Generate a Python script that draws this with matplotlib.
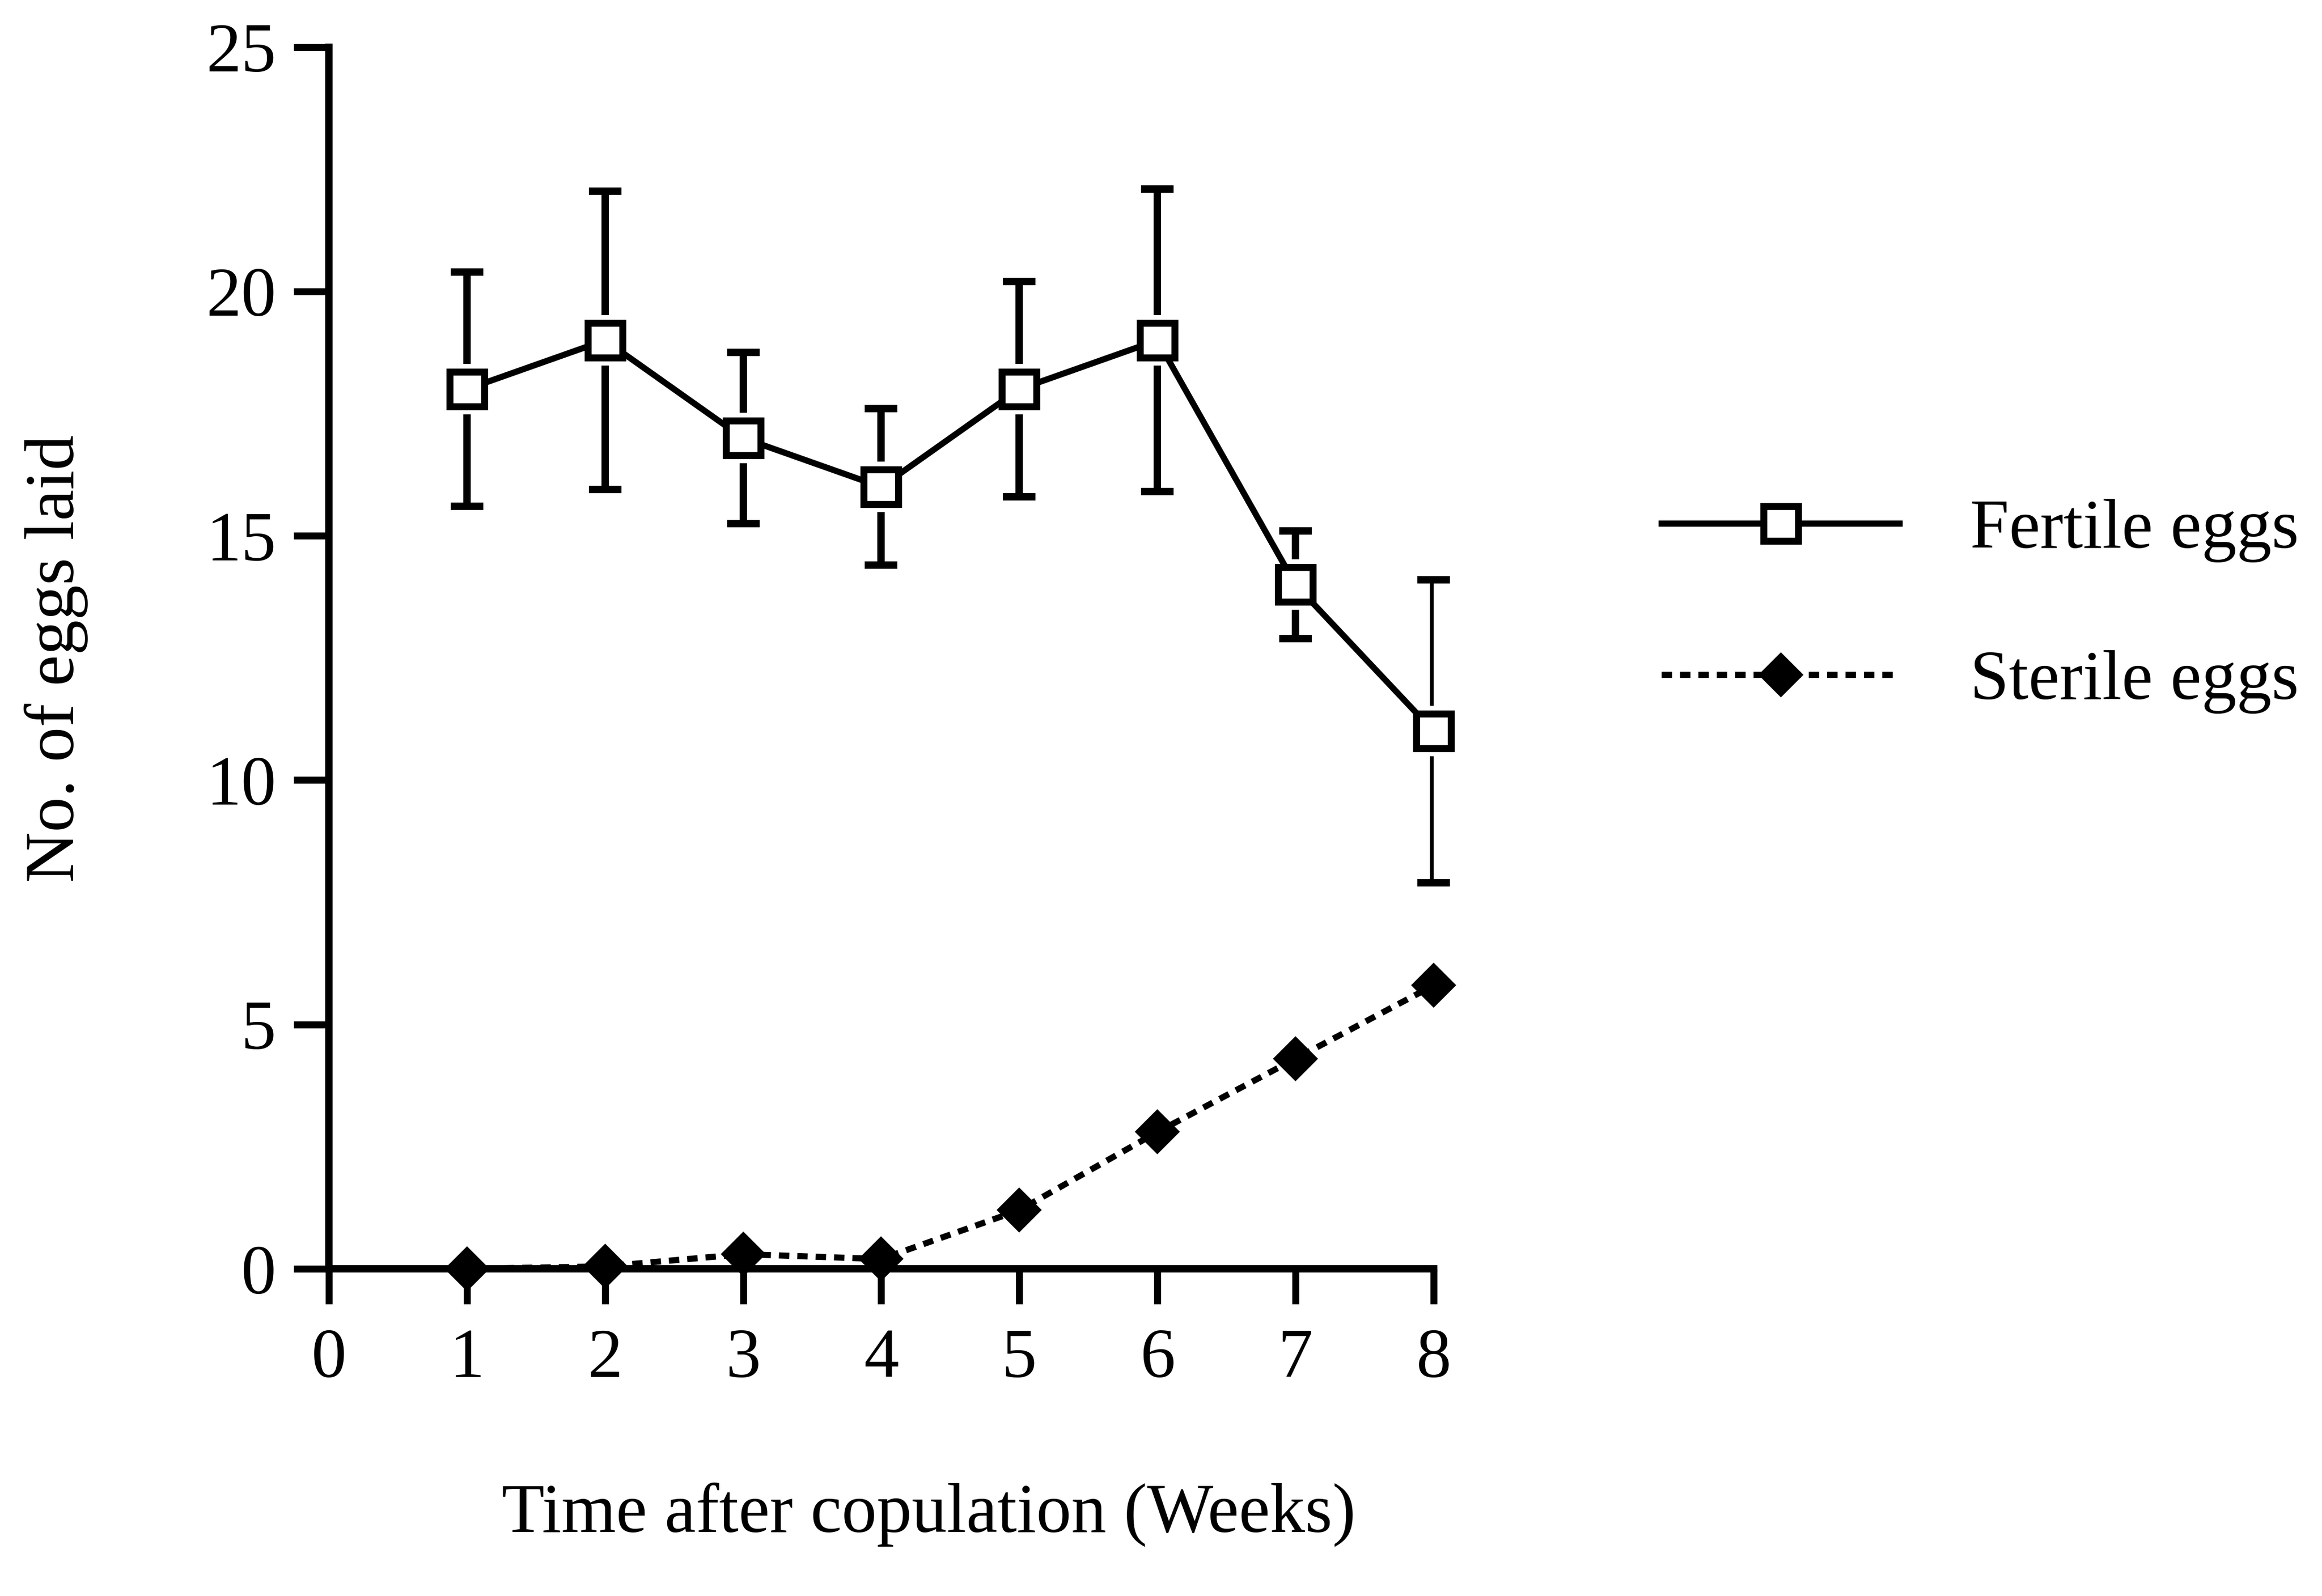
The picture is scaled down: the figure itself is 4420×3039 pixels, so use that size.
import matplotlib
matplotlib.use("Agg")
import matplotlib.pyplot as plt

plt.rcParams["font.family"] = ["Liberation Serif", "DejaVu Serif"]

weeks = [1, 2, 3, 4, 5, 6, 7, 8]
fertile = [18.0, 19.0, 17.0, 16.0, 18.0, 19.0, 14.0, 11.0]
fertile_err = [2.4, 3.05, 1.75, 1.6, 2.2, 3.1, 1.1, 3.1]
sterile = [0.0, 0.05, 0.3, 0.2, 1.2, 2.8, 4.3, 5.8]

xticks = [0, 1, 2, 3, 4, 5, 6, 7, 8]
yticks = [0, 5, 10, 15, 20, 25]

fig = plt.figure(figsize=(4420 / 300, 3039 / 300), dpi=300)
ax = fig.add_axes([0.1416, 0.205, 0.4758, 0.7655])

# error bars sit underneath, then a white halo so they stop short of the squares
ax.errorbar(weeks, fertile, yerr=fertile_err, fmt="none", ecolor="black",
            elinewidth=3.4, capsize=7.5, capthick=3.4, zorder=2)
ax.plot(weeks, fertile, ls="none", marker="s", ms=22, mfc="white", mec="white",
        zorder=3)
ax.plot(weeks, fertile, color="black", lw=2.8, marker="s", ms=16, mfc="white",
        mec="black", mew=3.2, zorder=5, label="Fertile eggs")
ax.plot(weeks, sterile, color="black", lw=2.8, ls=(0, (1.7, 1.3)), marker="D",
        ms=13.5, mfc="black", mec="black", zorder=6, label="Sterile eggs")

ax.set_xlim(0, 8)
ax.set_ylim(0, 25)
ax.set_xticks(xticks)
ax.set_yticks(yticks)
ax.tick_params(axis="both", direction="out", length=16, width=3.2,
               labelsize=32, color="black")
ax.tick_params(axis="y", pad=8)
ax.tick_params(axis="x", pad=11)
for side in ("top", "right"):
    ax.spines[side].set_visible(False)
for side in ("left", "bottom"):
    ax.spines[side].set_linewidth(3.4)
for artist in ax.lines:
    artist.set_clip_on(False)

fig.text(1768 / 4420, 1 - 2884 / 3039, "Time after copulation (Weeks)",
         fontsize=32, ha="center", va="center")
fig.text(107 / 4420, 1 - 1254 / 3039, "No. of eggs laid", fontsize=32,
         rotation=90, ha="center", va="center")

leg = ax.legend(loc="center left", bbox_to_anchor=(3163 / 4420, 0.620),
                bbox_transform=fig.transFigure, frameon=False, fontsize=32,
                handlelength=3.4, handletextpad=1.0, labelspacing=1.25,
                borderpad=0, borderaxespad=0)

fig.savefig("out.png", dpi=300, facecolor="white")
